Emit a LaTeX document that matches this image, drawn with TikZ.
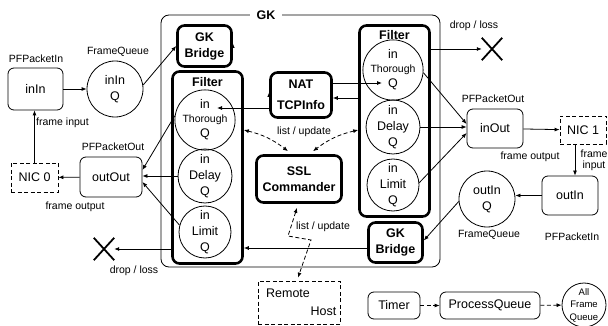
\documentclass[tikz,border=0pt]{standalone}
\usepackage{fontspec}
\setmainfont{Liberation Sans}
\usetikzlibrary{arrows.meta,calc}
\newcommand\myS{\fontsize{10.5}{12}\selectfont}
\newcommand\myM{\fontsize{12.5}{16}\selectfont}
\newcommand\myT{\fontsize{10.5}{13}\selectfont}
\newcommand\myF{\fontsize{9.5}{12.5}\selectfont}
\begin{document}
\begin{tikzpicture}[x=1pt,y=-1pt,
  arr/.style={-{Latex[length=5pt,width=4pt]}, line width=0.8pt},
  darr/.style={{Latex[length=5pt,width=4pt]}-{Latex[length=5pt,width=4pt]}, line width=0.8pt, dash pattern=on 4pt off 2.5pt},
  sdarr/.style={-{Latex[length=5pt,width=4pt]}, line width=0.8pt, dash pattern=on 4pt off 2.5pt},
  box/.style={draw, line width=0.8pt, rounded corners=6pt, inner sep=0pt, font=\myM, align=center},
  dbox/.style={draw, line width=0.8pt, dash pattern=on 4pt off 2.5pt, inner sep=0pt, font=\myM, align=center},
  tbox/.style={draw, line width=2.6pt, rounded corners=7pt, inner sep=0pt, font=\myM\bfseries, align=center},
  cq/.style={draw, circle, line width=0.8pt, inner sep=0pt, minimum size=52pt, font=\myM, align=center},
  lbl/.style={font=\myS, inner sep=0pt},
  xmark/.style={inner sep=0pt, minimum width=20pt, minimum height=22pt},
  xline/.style={line width=1.8pt},
]
\useasboundingbox (0,0) rectangle (608,326);

% GK outer
\node[draw, line width=0.8pt, rounded corners=8pt, minimum width=279pt, minimum height=252pt, inner sep=0pt] (gk) at (300.5,141) {};
\node[fill=white, font=\myM\bfseries, inner xsep=7pt, inner ysep=1pt] (gkt) at (266,15) {GK};

% left side
\node[box, minimum width=55pt, minimum height=42pt] (inIn) at (35.5,89) {inIn};
\node[lbl] (lInIn) at (36,59) {PFPacketIn};
\node[cq, minimum size=56pt] (inInQ) at (115,89) {inIn\\Q};
\node[lbl] (lInInQ) at (118,52) {FrameQueue};
\node[dbox, minimum width=47pt, minimum height=29pt] (nic0) at (34.5,177.5) {NIC 0};
\node[box, minimum width=62pt, minimum height=40pt] (outOut) at (111,177) {outOut};
\node[lbl] (lOutOut) at (113,147) {PFPacketOut};
\node[lbl, anchor=west] (lfin) at (36,123) {frame input};
\node[lbl] (lfout) at (75,207) {frame output};
\node[xmark] (xl) at (104,249) {};
\draw[xline] (xl.north west) -- (xl.south east) (xl.north east) -- (xl.south west);
\node[lbl] (ldl) at (134,271) {drop / loss};

% inside GK
\node[tbox, minimum width=54pt, minimum height=41pt] (gkb1) at (204.5,46) {GK\\Bridge};
\node[tbox, minimum width=70pt, minimum height=192pt] (lfilt) at (207.5,167.5) {};
\node[font=\myM\bfseries] (lft) at ($(lfilt.north)+(0,12)$) {Filter};
\node[cq] (lThQ) at (205,120) {in\\[-2pt]{\myT Thorough}\\[-1pt]Q};
\node[cq] (lDQ) at (205,176) {in\\Delay\\Q};
\node[cq] (lLQ) at (205,232) {in\\Limit\\Q};

\node[tbox, minimum width=61pt, minimum height=45pt] (nat) at (301,95) {NAT\\[5pt]TCPInfo};
\node[tbox, minimum width=85pt, minimum height=47pt] (ssl) at (299,179) {SSL\\Commander};

\node[tbox, minimum width=70pt, minimum height=191pt] (rfilt) at (394.5,121) {};
\node[font=\myM\bfseries] (rft) at ($(rfilt.north)+(0,11)$) {Filter};
\node[cq] (rThQ) at (393,70) {in\\[-2pt]{\myT Thorough}\\[-1pt]Q};
\node[cq] (rDQ) at (393,127) {in\\Delay\\Q};
\node[cq] (rLQ) at (393,185) {in\\Limit\\Q};

\node[tbox, minimum width=54pt, minimum height=40pt] (gkb2) at (395.5,242.5) {GK\\Bridge};

\node[lbl] (llu1) at (304,132) {list / update};
\node[lbl] (llu2) at (323,227) {list / update};

% right side
\node[xmark] (xr) at (492,49) {};
\draw[xline] (xr.north west) -- (xr.south east) (xr.north east) -- (xr.south west);
\node[lbl] (ldr) at (474,26) {drop / loss};
\node[box, minimum width=56pt, minimum height=39pt] (inOut) at (495,128.5) {inOut};
\node[lbl] (lInOut) at (493,99) {PFPacketOut};
\node[dbox, minimum width=46pt, minimum height=28pt] (nic1) at (583,130) {NIC 1};
\node[lbl] (lfout2) at (530,157) {frame output};
\node[lbl, align=center, font=\fontsize{10.5}{11}\selectfont] (lfin2) at (594,160.5) {frame\\input};
\node[box, minimum width=56pt, minimum height=39pt] (outIn) at (570,195.5) {outIn};
\node[lbl] (lOutIn) at (572,237) {PFPacketIn};
\node[cq, minimum size=56pt] (outInQ) at (487,199) {outIn\\Q};
\node[lbl] (lOutInQ) at (489,235) {FrameQueue};

% bottom
\node[dbox, minimum width=82pt, minimum height=43pt] (remote) at (299,302.5) {};
\node[font=\myM, inner sep=0pt] (rt1) at (288,293) {Remote};
\node[font=\myM, inner sep=0pt] (rt2) at (323.5,311) {Host};
\node[box, minimum width=52pt, minimum height=27pt] (timer) at (394,305.5) {Timer};
\node[box, minimum width=100pt, minimum height=27pt] (pq) at (490,305.5) {ProcessQueue};
\node[cq, minimum size=44pt, font=\myF] (afq) at (584,305) {All\\Frame\\Queue};

% connectors
\draw[arr] (inIn) -- (inInQ);
\draw[arr] (inInQ.8) -- (gkb1.west);
\draw[arr] ($(gkb1.east)+(0,-3)$) -- ($(gkb1.east)+(0,-3)$ -| rfilt.west);
\draw[arr] (rfilt.east |- xr) -- (xr.west);
\draw[arr] ($(nat.west)+(0,-3)$ -| lfilt.east) -- ($(nat.west)+(0,-3)$);
\coordinate (tipA) at ($(lThQ.center)+(12,-12)$);
\draw[arr] (nat.west |- tipA) -- (tipA);
\coordinate (tipB) at ($(rThQ.center)+(-11,13)$);
\draw[arr] (nat.east |- tipB) -- (tipB);
\draw[arr] (rfilt.west |- 0,98) -- (nat.east |- 0,98);
\draw[darr] (lfilt.east |- 0,130) to[bend left=12] ($(ssl.north)+(-11,-3)$);
\draw[darr] (rfilt.west |- 0,130) to[bend right=12] ($(ssl.north)+(14,-3)$);
\draw[darr] ($(ssl.south)+(-2,4)$) -- (288,236) -- (311,240) -- ($(remote.north)+(-1,-3)$);
\draw[arr] (gkb2.west |- 0,248) -- (lfilt.east |- 0,248);
\draw[arr] (lfilt.west |- xl) -- (xl.east);
\draw[arr] (lThQ.172) -- ($(outOut.east)+(0,-7)$);
\draw[arr] (lDQ.west) -- (lDQ.west -| outOut.east);
\draw[arr] (lLQ.165) -- ($(outOut.east)+(0,5)$);
\draw[arr] (outOut) -- (nic0);
\draw[arr] (nic0.north) -- (nic0.north |- inIn.south);
\draw[arr] (rThQ.-5) -- ($(inOut.west)+(0,-4.5)$);
\draw[arr] (rDQ.east) -- (rDQ.east -| inOut.west);
\draw[arr] (rLQ.5) -- ($(inOut.west)+(0,4.5)$);
\draw[arr] (inOut) -- (nic1);
\coordinate (nicdown) at ($(outIn.north)+(5,0)$);
\draw[arr] (nic1.south -| nicdown) -- (nicdown);
\draw[arr] (outIn.west) -- (outIn.west -| outInQ.east);
\draw[arr] (outInQ.185) -- ($(gkb2.east)+(0,-2)$);
\draw[sdarr] (timer) -- (pq);
\draw[sdarr] (pq) -- (afq);
\end{tikzpicture}
\end{document}
